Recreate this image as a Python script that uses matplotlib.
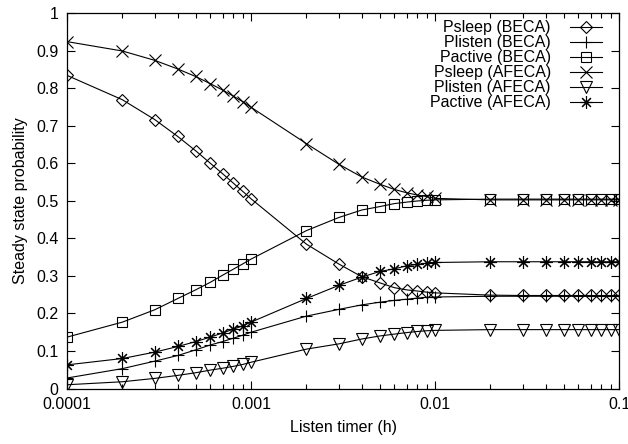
import matplotlib
matplotlib.use('Agg')
import matplotlib.pyplot as plt
from matplotlib.ticker import FixedLocator, LogLocator, NullFormatter, FixedFormatter

plt.rcParams['font.family'] = ['Liberation Sans', 'DejaVu Sans']
plt.rcParams['font.size'] = 11.5

### data
listen_timer = [0.0001, 0.0002, 0.0003, 0.0004, 0.0005, 0.0006, 0.0007, 0.0008, 0.0009, 0.001,
                0.002, 0.003, 0.004, 0.005, 0.006, 0.007, 0.008, 0.009, 0.01,
                0.02, 0.03, 0.04, 0.05, 0.06, 0.07, 0.08, 0.09, 0.1]

psleep_beca = [0.835, 0.770, 0.717, 0.672, 0.634, 0.601, 0.573, 0.548, 0.526, 0.506,
               0.385, 0.332, 0.298, 0.282, 0.269, 0.263, 0.260, 0.257, 0.255,
               0.249, 0.248, 0.248, 0.248, 0.248, 0.248, 0.248, 0.248, 0.248]
plisten_beca = [0.028, 0.053, 0.073, 0.088, 0.103, 0.116, 0.125, 0.134, 0.142, 0.150,
                0.193, 0.211, 0.223, 0.230, 0.235, 0.238, 0.241, 0.243, 0.244,
                0.246, 0.246, 0.246, 0.246, 0.246, 0.246, 0.246, 0.246, 0.246]
pactive_beca = [0.137, 0.177, 0.210, 0.240, 0.263, 0.283, 0.302, 0.318, 0.332, 0.345,
                0.421, 0.456, 0.476, 0.485, 0.493, 0.497, 0.500, 0.502, 0.503,
                0.505, 0.505, 0.505, 0.505, 0.505, 0.505, 0.505, 0.505, 0.505]
psleep_afeca = [0.925, 0.900, 0.875, 0.852, 0.832, 0.813, 0.796, 0.780, 0.765, 0.750,
                0.653, 0.598, 0.564, 0.545, 0.531, 0.522, 0.516, 0.512, 0.507,
                0.503, 0.503, 0.503, 0.503, 0.503, 0.503, 0.503, 0.503, 0.503]
plisten_afeca = [0.010, 0.018, 0.027, 0.035, 0.042, 0.049, 0.054, 0.059, 0.064, 0.070,
                 0.105, 0.119, 0.132, 0.140, 0.145, 0.149, 0.152, 0.154, 0.155,
                 0.157, 0.157, 0.157, 0.157, 0.157, 0.157, 0.157, 0.157, 0.157]
pactive_afeca = [0.063, 0.080, 0.097, 0.112, 0.125, 0.137, 0.148, 0.158, 0.167, 0.177,
                 0.240, 0.275, 0.297, 0.312, 0.319, 0.327, 0.331, 0.334, 0.336,
                 0.338, 0.338, 0.338, 0.338, 0.338, 0.338, 0.338, 0.338, 0.338]

x_ticks = [0.0001, 0.001, 0.01, 0.1]
x_tick_labels = ['0.0001', '0.001', '0.01', '0.1']
y_ticks = [0, 0.1, 0.2, 0.3, 0.4, 0.5, 0.6, 0.7, 0.8, 0.9, 1]
y_tick_labels = ['0', '0.1', '0.2', '0.3', '0.4', '0.5', '0.6', '0.7', '0.8', '0.9', '1']

series = [
    ('Psleep (BECA)', psleep_beca, 'D', 6),
    ('Plisten (BECA)', plisten_beca, '+', 9),
    ('Pactive (BECA)', pactive_beca, 's', 7),
    ('Psleep (AFECA)', psleep_afeca, 'x', 8),
    ('Plisten (AFECA)', plisten_afeca, 'v', 8),
    ('Pactive (AFECA)', pactive_afeca, (8, 2, 0), 9),
]

### plot
fig = plt.figure(figsize=(6.28, 4.44), dpi=100)
ax = fig.add_axes([0.1067, 0.125, 0.879, 0.8446])

for label, vals, mk, ms in series:
    ax.plot(listen_timer, vals, color='k', lw=0.8, marker=mk, markersize=ms,
            mfc='none', mec='k', mew=0.8, label=label)

ax.set_xscale('log')
ax.set_xlim(0.0001, 0.1)
ax.set_ylim(0, 1)
ax.xaxis.set_major_locator(FixedLocator(x_ticks))
ax.xaxis.set_major_formatter(FixedFormatter(x_tick_labels))
ax.xaxis.set_minor_locator(LogLocator(base=10, subs=range(2, 10)))
ax.xaxis.set_minor_formatter(NullFormatter())
ax.yaxis.set_major_locator(FixedLocator(y_ticks))
ax.yaxis.set_major_formatter(FixedFormatter(y_tick_labels))

ax.tick_params(which='both', direction='in', top=True, right=True, labelsize=11.5)
ax.tick_params(which='major', length=6, width=0.8, pad=6)
ax.tick_params(which='minor', length=3.5, width=0.8)
for s in ax.spines.values():
    s.set_linewidth(0.9)

ax.set_xlabel('Listen timer (h)', fontsize=11.5, labelpad=6)
ax.set_ylabel('Steady state probability', fontsize=11.5, labelpad=6)

ax.legend(loc='upper right', bbox_to_anchor=(0.975, 0.99), frameon=False,
          markerfirst=False, handlelength=2.0, handletextpad=1.2,
          labelspacing=0.0, borderaxespad=0.0, borderpad=0.2, fontsize=11.5)

fig.savefig('out.png', dpi=100)
